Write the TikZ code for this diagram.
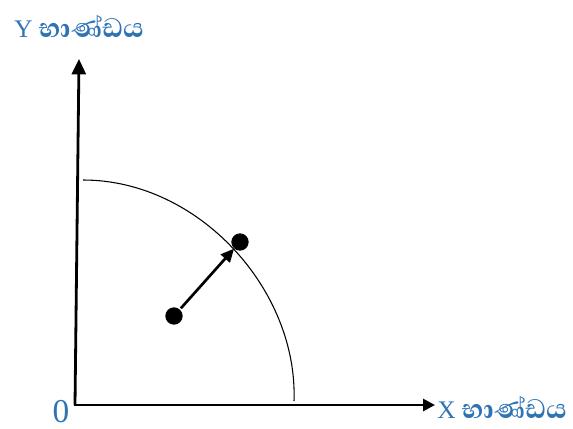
\documentclass[tikz,border=0pt]{standalone}
\usepackage{fontspec}
\setmainfont{Liberation Serif}
\newfontfamily\sinfont[Script=Sinhala, Scale=1.35]{Abhaya Libre Bold}
\usepackage{xcolor}
\usetikzlibrary{arrows.meta}
\definecolor{labelblue}{RGB}{46,116,181}
\tikzset{
    axisline/.style={line width=2.1pt, -{Triangle[length=11.5pt, width=10.5pt]}},
    dot/.style={circle, fill=black, inner sep=0pt, minimum width=12pt, minimum height=13pt},
    axislabel/.style={text=labelblue, font=\fontsize{19}{22}\selectfont, inner sep=0pt, anchor=base west}
}

\begin{document}
\begin{tikzpicture}[x=0.75pt, y=-0.75pt]
        \useasboundingbox (0,0) rectangle (573,428);
        % Coordinates
        \coordinate (O) at (75,405);
        \coordinate (YT) at (79,59);
        \coordinate (XT) at (435,405);
        \coordinate (A) at (83,180);
        \coordinate (B) at (294,401);

        % Drawing
        \draw[axisline] (O) -- (YT);
        \draw[axisline, -{Triangle[length=9pt, width=9pt]}] ([xshift=-1pt]O) -- (XT);
        \draw[line width=0.8pt] (A) .. controls (199,180) and (298,290) .. (B);
        \node[dot] (P) at (174,316) {};
        \node[dot] (Q) at (240,242) {};
        \draw[line width=2pt, -{Triangle[length=10pt, width=9pt]}, shorten <=1pt] (P) -- (Q);
        \node[axislabel] (ylab) at (14,38) {Y {\sinfont භාණ්ඩය}};
        \node[axislabel] (xlab) at (437,418) {X {\sinfont භාණ්ඩය}};
        \node[text=labelblue, font=\fontsize{25}{28}\selectfont, inner sep=0pt, anchor=base] (zero) at (61,422) {0};
    \end{tikzpicture}
\end{document}
